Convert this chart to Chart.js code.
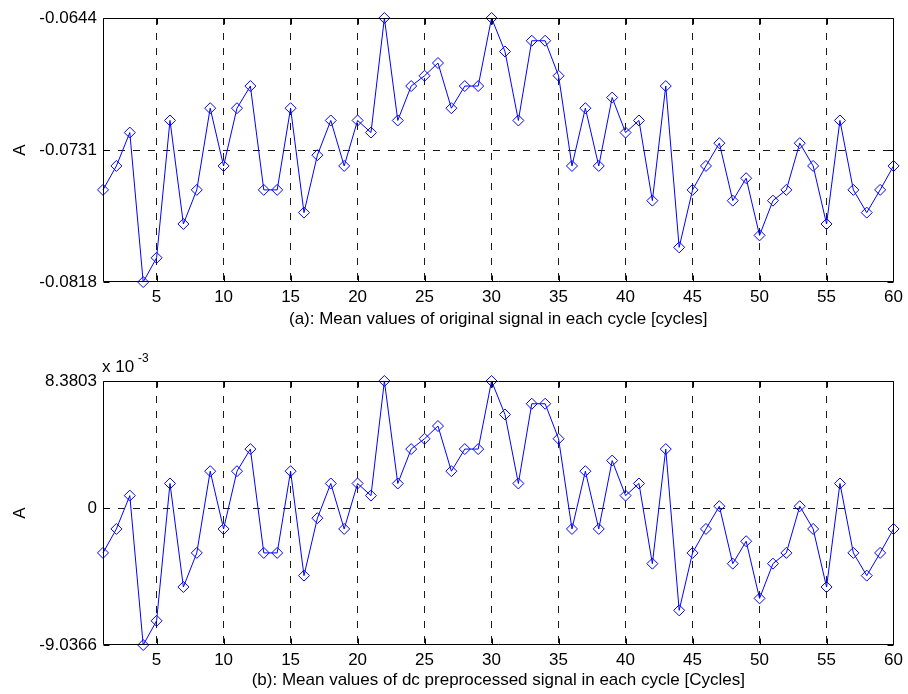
<!DOCTYPE html>
<html>
<head>
<meta charset="utf-8">
<script src="https://cdn.jsdelivr.net/npm/chart.js@4.4.1/dist/chart.umd.min.js"></script>
<style>
    html, body { margin: 0; padding: 0; background: #fff; }
    .panel { position: absolute; left: 0; width: 908px; height: 347px; }
</style>
</head>
<body>
<div class="panel" style="top: 0"><canvas id="original"></canvas></div>
<div class="panel" style="top: 347px"><canvas id="preprocessed"></canvas></div>
<script>
const cycles = [
    1, 2, 3, 4, 5, 6, 7, 8, 9, 10, 11, 12, 13, 14, 15, 16, 17, 18, 19, 20,
    21, 22, 23, 24, 25, 26, 27, 28, 29, 30, 31, 32, 33, 34, 35, 36, 37, 38, 39, 40,
    41, 42, 43, 44, 45, 46, 47, 48, 49, 50, 51, 52, 53, 54, 55, 56, 57, 58, 59, 60
];

// (a) mean of the original signal per cycle
const originalMeans = [
    -0.07574, -0.07416, -0.07196, -0.08182, -0.08022, -0.07116, -0.07799, -0.07574, -0.07035, -0.07416,
    -0.07035, -0.06889, -0.07574, -0.07574, -0.07035, -0.07724, -0.07345, -0.07116, -0.07416, -0.07116,
    -0.07196, -0.06440, -0.07116, -0.06889, -0.06821, -0.06737, -0.07035, -0.06889, -0.06889, -0.06440,
    -0.06661, -0.07116, -0.06590, -0.06590, -0.06821, -0.07416, -0.07035, -0.07416, -0.06965, -0.07196,
    -0.07116, -0.07645, -0.06889, -0.07953, -0.07574, -0.07416, -0.07266, -0.07645, -0.07497, -0.07874,
    -0.07645, -0.07574, -0.07266, -0.07416, -0.07799, -0.07116, -0.07574, -0.07724, -0.07574, -0.07416
];

// (b) same means after dc removal, in units of 1e-3
const preprocessedMeans = [
    -2.96, -1.38, 0.82, -9.0366, -7.44, 1.62, -5.21, -2.96, 2.43, -1.38,
    2.43, 3.89, -2.96, -2.96, 2.43, -4.46, -0.67, 1.62, -1.38, 1.62,
    0.82, 8.3803, 1.62, 3.89, 4.57, 5.41, 2.43, 3.89, 3.89, 8.3803,
    6.17, 1.62, 6.88, 6.88, 4.57, -1.38, 2.43, -1.38, 3.13, 0.82,
    1.62, -3.67, 3.89, -6.75, -2.96, -1.38, 0.12, -3.67, -2.19, -5.96,
    -3.67, -2.96, 0.12, -1.38, -5.21, 1.62, -2.96, -4.46, -2.96, -1.38
];

const xTicks = [5, 10, 15, 20, 25, 30, 35, 40, 45, 50, 55, 60];
const originalTicks = [-0.0818169, -0.0731085, -0.0644];
const originalTickLabels = ['-0.0818', '-0.0731', '-0.0644'];
const preprocessedTicks = [-9.0366, 0, 8.3803];
const preprocessedTickLabels = ['-9.0366', '0', '8.3803'];

const FONT = "'Liberation Sans', Arial, Helvetica, sans-serif";

// MATLAB style box with inward tick marks, plus optional exponent label
const matlabAxes = {
    id: 'matlabAxes',
    afterDatasetsDraw(chart, args, opts) {
        const { ctx, chartArea: a, scales: { x, y } } = chart;
        const len = 6;
        const l = Math.round(a.left) + 0.5, r = Math.round(a.right) - 0.5;
        const t = Math.round(a.top) + 0.5, b = Math.round(a.bottom) - 0.5;
        ctx.save();
        ctx.setLineDash([]);
        ctx.strokeStyle = '#000';
        ctx.lineWidth = 1;
        ctx.beginPath();
        x.ticks.forEach(tk => {
            const px = Math.min(Math.round(x.getPixelForValue(tk.value)) + 0.5, r);
            ctx.moveTo(px, b); ctx.lineTo(px, b - len);
            ctx.moveTo(px, t); ctx.lineTo(px, t + len);
        });
        y.ticks.forEach(tk => {
            const py = Math.round(y.getPixelForValue(tk.value)) + 0.5;
            ctx.moveTo(l, py); ctx.lineTo(l + len, py);
            ctx.moveTo(r, py); ctx.lineTo(r - len, py);
        });
        ctx.moveTo(l, t); ctx.lineTo(r, t); ctx.lineTo(r, b); ctx.lineTo(l, b); ctx.closePath();
        ctx.stroke();

        if (opts.exponent) {
            ctx.fillStyle = '#000';
            ctx.textBaseline = 'alphabetic';
            ctx.font = '17px ' + FONT;
            ctx.fillText('x 10', a.left - 1, a.top - 9);
            ctx.font = '12px ' + FONT;
            ctx.fillText(opts.exponent, a.left + 35, a.top - 19);
        }
        ctx.restore();
    }
};

function buildChart(canvasId, values, yTicks, yLabels, title, padTop, axisHeight, titlePad, exponent) {
    return new Chart(document.getElementById(canvasId), {
        type: 'line',
        data: {
            datasets: [{
                data: cycles.map((c, i) => ({ x: c, y: values[i] })),
                borderColor: '#0000ff',
                borderWidth: 1,
                pointStyle: 'rectRot',
                pointRadius: 5.5,
                pointBorderColor: '#0000ff',
                pointBackgroundColor: 'rgba(0,0,0,0)',
                pointBorderWidth: 1,
                tension: 0,
                clip: false
            }]
        },
        options: {
            responsive: true,
            maintainAspectRatio: false,
            animation: false,
            events: [],
            layout: { padding: { top: padTop, right: 14, bottom: 0, left: 0 } },
            plugins: {
                legend: { display: false },
                tooltip: { enabled: false },
                matlabAxes: { exponent: exponent }
            },
            scales: {
                x: {
                    type: 'linear',
                    min: 1,
                    max: 60,
                    afterBuildTicks: scale => { scale.ticks = xTicks.map(v => ({ value: v })); },
                    afterFit: scale => { scale.height = axisHeight; },
                    grid: {
                        drawTicks: false,
                        color: c => (c.tick && c.tick.value > 1 && c.tick.value < 60) ? '#1a1a1a' : 'rgba(0,0,0,0)'
                    },
                    border: { display: false, dash: [7, 8] },
                    ticks: {
                        color: '#000',
                        padding: 5,
                        maxRotation: 0,
                        autoSkip: false,
                        font: { family: FONT, size: 17 },
                        callback: v => String(v)
                    },
                    title: {
                        display: true,
                        text: title,
                        color: '#000',
                        font: { family: FONT, size: 17 },
                        padding: { top: 0, bottom: titlePad }
                    }
                },
                y: {
                    min: yTicks[0],
                    max: yTicks[2],
                    afterBuildTicks: scale => { scale.ticks = yTicks.map(v => ({ value: v })); },
                    afterFit: scale => { scale.width = 103; },
                    grid: {
                        drawTicks: false,
                        color: c => (c.index === 1) ? '#1a1a1a' : 'rgba(0,0,0,0)'
                    },
                    border: { display: false, dash: [7, 8] },
                    ticks: {
                        color: '#000',
                        padding: 6,
                        autoSkip: false,
                        font: { family: FONT, size: 17 },
                        callback: (v, i) => yLabels[i]
                    },
                    title: {
                        display: true,
                        text: 'A',
                        color: '#000',
                        font: { family: FONT, size: 17 },
                        padding: { top: 10, bottom: 0 }
                    }
                }
            }
        },
        plugins: [matlabAxes]
    });
}

buildChart('original', originalMeans, originalTicks, originalTickLabels,
    '(a): Mean values of original signal in each cycle [cycles]', 18, 65, 17, null);
buildChart('preprocessed', preprocessedMeans, preprocessedTicks, preprocessedTickLabels,
    '(b): Mean values of dc preprocessed signal in each cycle [Cycles]', 34, 49, 3, '-3');
</script>
</body>
</html>
